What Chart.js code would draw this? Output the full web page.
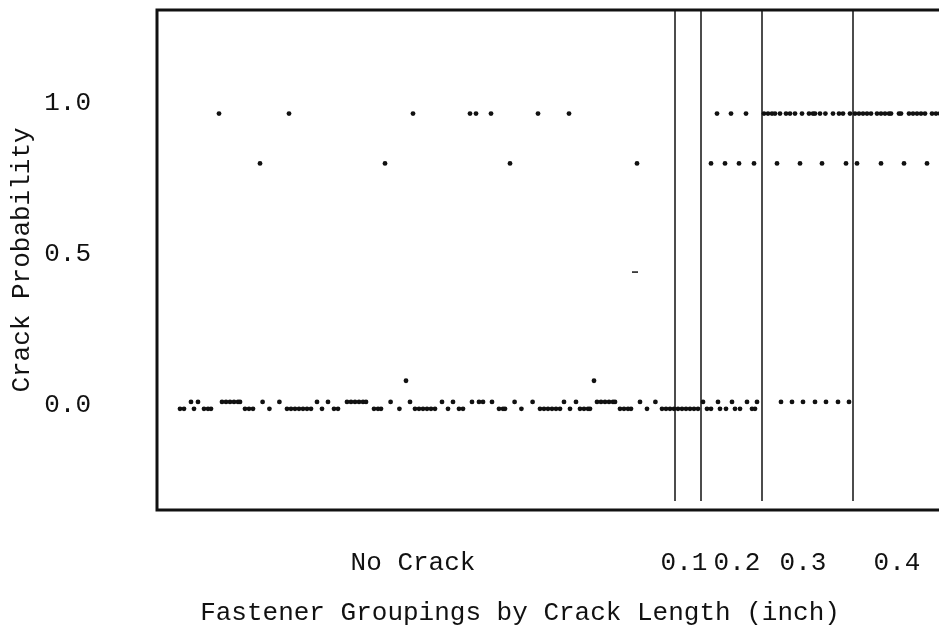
<!DOCTYPE html>
<html>
<head>
<meta charset="utf-8">
<script src="https://cdn.jsdelivr.net/npm/chart.js@4"></script>
<style>
html,body{margin:0;padding:0;background:#fff;}
#wrap{width:939px;height:629px;}
</style>
</head>
<body>
<div id="wrap"><canvas id="chart" width="939" height="629"></canvas></div>
<script>
// Fastener positions (group order) for each probability level
const fastenersAt097 = [15.5, 33, 64, 78.25, 79.75, 83.5, 95.25, 103, 140, 143.5, 147.25,
  151.75, 152.75, 153.75, 154.5, 155.75, 157.25, 158.25, 159.5, 161.25, 163, 164, 164.5,
  165.75, 167.1, 169, 170.5, 171.5, 173.25, 174.5, 175.5, 176.5, 177.5, 178.5, 180, 181,
  182, 183, 183.5, 185.5, 186, 188, 189, 190, 191, 192, 193.75, 194.75, 195.75];
const fastenersAt080 = [25.75, 57, 88.25, 120, 138.5, 142, 145.5, 149.25, 155, 160.75,
  166.25, 172.25, 175, 181, 186.75, 192.5];
const fastenersAt044 = [119.5];
const fastenersAt008 = [62.25, 109.25];
const fastenersZeroHigh = [8.5, 10.25, 16.25, 17.25, 18.25, 19.25, 20.25, 20.75, 26.4, 30.6,
  40, 42.75, 47.5, 48.5, 49.5, 50.5, 51.5, 52.25, 58.4, 63.25, 71.25, 74, 78.75, 80.5, 81.5,
  83.75, 89.4, 93.9, 101.75, 104.75, 110, 111, 112, 113, 114, 114.5, 120.75, 124.6, 136.5,
  140.25, 143.75, 147.5, 150, 156, 158.75, 161.5, 164.5, 167.25, 170.25, 173];
const fastenersZeroLow = [5.75, 6.75, 9.25, 11.75, 12.75, 13.5, 22, 23, 24, 28.1, 32.5, 33.5,
  34.5, 35.5, 36.5, 37.5, 38.5, 41.25, 44.25, 45.25, 54.25, 55.25, 56, 60.6, 64.5, 65.5, 66.5,
  67.5, 68.5, 69.5, 72.75, 75.5, 76.5, 85.5, 86.5, 87, 91.1, 95.75, 96.75, 97.75, 98.75, 99.75,
  100.75, 103.25, 105.75, 106.75, 107.75, 108.25, 115.75, 116.75, 117.75, 118.5, 122.5, 126.25,
  127.25, 128.25, 129.25, 130.25, 131.25, 132.25, 133.25, 134.25, 135.25, 137.5, 138.5, 140.75,
  142.25, 144.5, 145.75, 148.75, 149.5];
const rowLevels = [0.965, 0.80, 0.44, 0.08, 0.01, -0.013];

// Groups along the x axis
const groupLabels = ['No Crack', '0.1', '0.2', '0.3', '0.4'];
const groupLabelPos = [64, 131.75, 145, 161.5, 185];
const groupBounds = [129.5, 136, 151.25, 174];
const yTicks = [0, 0.5, 1.0];

const FONT = '"Liberation Mono", "DejaVu Sans Mono", monospace';
const INK = '#111';

const rows = [fastenersAt097, fastenersAt080, fastenersAt044, fastenersAt008, fastenersZeroHigh, fastenersZeroLow];
const datasets = rows.map((xs, i) => ({
  data: xs.map(x => ({x: x, y: rowLevels[i]})),
  pointRadius: rowLevels[i] === 0.44 ? 3 : 2.4,
  pointStyle: rowLevels[i] === 0.44 ? 'line' : 'circle',
  pointBackgroundColor: INK,
  pointBorderColor: INK,
  pointBorderWidth: rowLevels[i] === 0.44 ? 1.5 : 0,
  showLine: false,
  clip: false
}));

// frame, group separators, group labels and x title
const framePlugin = {
  id: 'frame',
  afterDatasetsDraw(chart) {
    const {ctx, chartArea: a, scales: {x}} = chart;
    ctx.save();
    ctx.strokeStyle = INK;
    ctx.lineWidth = 1.5;
    groupBounds.forEach(b => {
      const px = x.getPixelForValue(b);
      ctx.beginPath();
      ctx.moveTo(px, a.top);
      ctx.lineTo(px, a.bottom - 9);
      ctx.stroke();
    });
    ctx.lineWidth = 3;
    ctx.beginPath();
    ctx.moveTo(chart.width, a.top);
    ctx.lineTo(a.left, a.top);
    ctx.lineTo(a.left, a.bottom);
    ctx.lineTo(chart.width, a.bottom);
    ctx.stroke();
    ctx.fillStyle = INK;
    ctx.font = '26px ' + FONT;
    ctx.textAlign = 'center';
    ctx.textBaseline = 'middle';
    groupLabels.forEach((lab, i) => {
      ctx.fillText(lab, x.getPixelForValue(groupLabelPos[i]), a.bottom + 53);
    });
    ctx.fillText('Fastener Groupings by Crack Length (inch)', 520, 613);
    ctx.restore();
  }
};

new Chart(document.getElementById('chart'), {
  type: 'scatter',
  data: { datasets: datasets },
  plugins: [framePlugin],
  options: {
    responsive: false,
    animation: false,
    layout: { autoPadding: false, padding: { top: 10, left: 0, right: 0, bottom: 0 } },
    plugins: { legend: { display: false }, tooltip: { enabled: false } },
    scales: {
      x: {
        type: 'linear',
        min: 0,
        max: 195.5,
        grid: { display: false, drawTicks: false },
        border: { display: false },
        ticks: { display: false },
        afterFit: s => { s.height = 119; s.paddingLeft = 0; s.paddingRight = 0; }
      },
      y: {
        min: -0.348,
        max: 1.308,
        grid: { display: false, drawTicks: false },
        border: { display: false },
        afterFit: s => { s.width = 157; s.paddingTop = 0; s.paddingBottom = 0; },
        afterBuildTicks: s => { s.ticks = yTicks.map(v => ({value: v})); },
        ticks: {
          padding: 66,
          color: INK,
          font: { family: FONT, size: 26 },
          callback: v => v.toFixed(1)
        },
        title: {
          display: true,
          text: 'Crack Probability',
          color: INK,
          font: { family: FONT, size: 26 },
          padding: { top: 7, bottom: 0 }
        }
      }
    }
  }
});
</script>
</body>
</html>
